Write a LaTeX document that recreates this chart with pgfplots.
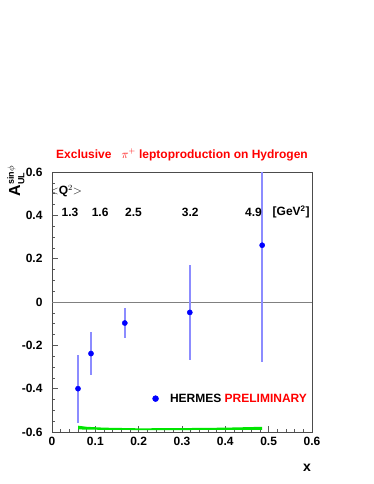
\documentclass[border=0pt]{standalone}
\usepackage{fontspec}
\setmainfont{Liberation Sans}
\usepackage{pgfplots}
\pgfplotsset{compat=1.18}
\begin{document}
\begin{tikzpicture}[x=1pt,y=1pt]
\useasboundingbox (0,0) rectangle (374,484);
\begin{axis}[
  at={(52pt,52pt)}, anchor=south west,
  scale only axis, width=260pt, height=260pt,
  xmin=0, xmax=0.6, ymin=-0.6, ymax=0.6,
  xtick={0,0.1,...,0.6}, ytick={-0.6,-0.4,...,0.6},
  minor x tick num=4, minor y tick num=3,
  tick align=inside, xtick pos=bottom, ytick pos=left,
  major tick length=6pt, minor tick length=3pt,
  tick style={gray!70!black, line width=0.6pt},
  axis line style={gray!60!black, line width=0.8pt},
  /pgf/number format/assume math mode=true,
  /pgf/number format/fixed, /pgf/number format/precision=1,
  ticklabel style={font=\bfseries\fontsize{12}{14}\selectfont},
  xticklabel style={yshift=-2pt},
  yticklabel style={xshift=-6pt},
  clip=true,
]
% green systematic band
\addplot[fill=green!90!black, draw=none] coordinates {
 (0.060,-0.571) (0.080,-0.576) (0.120,-0.580) (0.200,-0.583) (0.300,-0.582) (0.400,-0.580) (0.485,-0.576)
 (0.485,-0.590) (0.400,-0.590) (0.300,-0.591) (0.200,-0.591) (0.120,-0.590) (0.080,-0.589) (0.060,-0.588) } -- cycle;
% zero line
\addplot[gray, line width=0.6pt] coordinates {(0,0) (0.6,0)};
% data
\addplot[only marks, mark=*, mark size=2.6pt, color=blue,
  error bars/.cd, y dir=both, y explicit,
  error bar style={blue!45, line width=1.6pt}, error mark=none]
  coordinates {
  (0.060,-0.400) +- (0,0.157)
  (0.090,-0.238) +- (0,0.098)
  (0.168,-0.097) +- (0,0.070)
  (0.318,-0.048) +- (0,0.221)
  (0.485, 0.262) +- (0,0.539)
  };
% legend marker
\addplot[only marks, mark=*, mark size=3pt, color=blue] coordinates {(0.239,-0.446)};
\node[anchor=west, inner sep=0pt, font=\bfseries\fontsize{12}{14}\selectfont] at (axis cs:0.272,-0.446) {HERMES \textcolor{red}{PRELIMINARY}};
% Q2 labels
\node[font=\bfseries\fontsize{12}{14}\selectfont] at (axis cs:0.032,0.512) {$<$Q$^2$$>$};
\node[font=\bfseries\fontsize{12}{14}\selectfont] at (axis cs:0.0415,0.415) {1.3};
\node[font=\bfseries\fontsize{12}{14}\selectfont] at (axis cs:0.111,0.415) {1.6};
\node[font=\bfseries\fontsize{12}{14}\selectfont] at (axis cs:0.188,0.415) {2.5};
\node[font=\bfseries\fontsize{12}{14}\selectfont] at (axis cs:0.319,0.415) {3.2};
\node[font=\bfseries\fontsize{12}{14}\selectfont] at (axis cs:0.465,0.415) {4.9};
\node[font=\bfseries\fontsize{12}{14}\selectfont] at (axis cs:0.552,0.415) {[GeV$^{\mathbf 2}$]};
\end{axis}
\node[font=\bfseries\fontsize{12}{14}\selectfont, text=red] at (182,329) {Exclusive\ \ \ $\pi^{+}$ leptoproduction on Hydrogen};
\node[rotate=90, font=\bfseries\fontsize{16}{18}\selectfont] at (16,303) {A$^{\mbox{\fontsize{9}{10}\selectfont sin$\phi$}}_{\mbox{\fontsize{9}{10}\selectfont UL}}$};
\node[font=\bfseries\fontsize{14}{16}\selectfont] at (307,16.5) {x};
\end{tikzpicture}
\end{document}
